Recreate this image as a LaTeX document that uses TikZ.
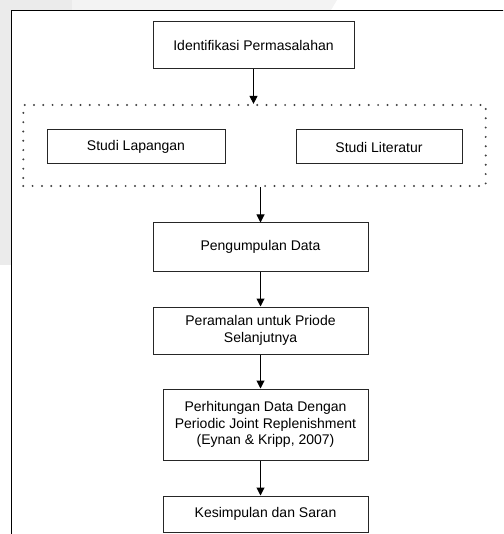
\documentclass[tikz,border=0pt]{standalone}
\usepackage{fontspec}
\setmainfont{Liberation Sans}
\usetikzlibrary{arrows.meta,calc}
\definecolor{wm}{HTML}{EBEBEB}
\definecolor{wmlight}{HTML}{F3F3F3}
\begin{document}
\begin{tikzpicture}[x=1pt,y=-1pt,
  box/.style={draw=black!85,line width=1pt,fill=white,inner sep=0pt,
    font=\fontsize{14}{16.7}\selectfont,align=center},
  flow/.style={line width=1pt,-{Triangle[length=8pt,width=8pt]}},
  dotbox/.style={draw=black!75,line width=2.2pt,line cap=round,dash pattern=on 0pt off 9.3pt}
]
\useasboundingbox (0,0) rectangle (503,534);
\clip (0,0) rectangle (503,534);
% faint watermark outside the frame
\fill[wm] (0,0) rectangle (11,265);
\fill[wm] (0,0) rectangle (72,10);
\fill[wmlight] (72,0) -- (337,0) -- (331,10) -- (72,10) -- cycle;
% outer frame
\draw[line width=1.2pt] (11.5,545) -- (11.5,10.5) -- (515,10.5);
% dotted group
\node[dotbox,minimum width=462.4pt,minimum height=81pt,inner sep=0pt] (grp) at (254.5,145.5) {};
% nodes
\node[box,minimum width=201pt,minimum height=47pt] (idt) at (253.5,45.5) {Identifikasi Permasalahan};
\node[box,minimum width=178pt,minimum height=34pt] (lap) at (136,147) {Studi Lapangan};
\node[box,minimum width=166pt,minimum height=34pt] (lit) at (379,147) {Studi Literatur};
\node[box,minimum width=215pt,minimum height=48pt] (pd) at (260.5,247) {Pengumpulan Data};
\node[box,minimum width=215pt,minimum height=47pt] (pr) at (260.5,330.5) {Peramalan untuk Priode\\Selanjutnya};
\node[box,minimum width=205pt,minimum height=71pt] (ph) at (265.5,424.5) {Perhitungan Data Dengan\\Periodic Joint Replenishment\\(Eynan \& Kripp, 2007)};
\node[box,minimum width=205pt,minimum height=36pt] (ks) at (265.5,514) {Kesimpulan dan Saran};
% connectors
\draw[flow] (idt.south) -- (idt.south |- grp.north);
\draw[flow] (grp.south -| pd.north) -- (pd.north);
\draw[flow] (pd.south) -- (pr.north);
\draw[flow] (pr.south) -- (pr.south |- ph.north);
\draw[flow] (pr.south |- ph.south) -- (pr.south |- ks.north);
\end{tikzpicture}
\end{document}
